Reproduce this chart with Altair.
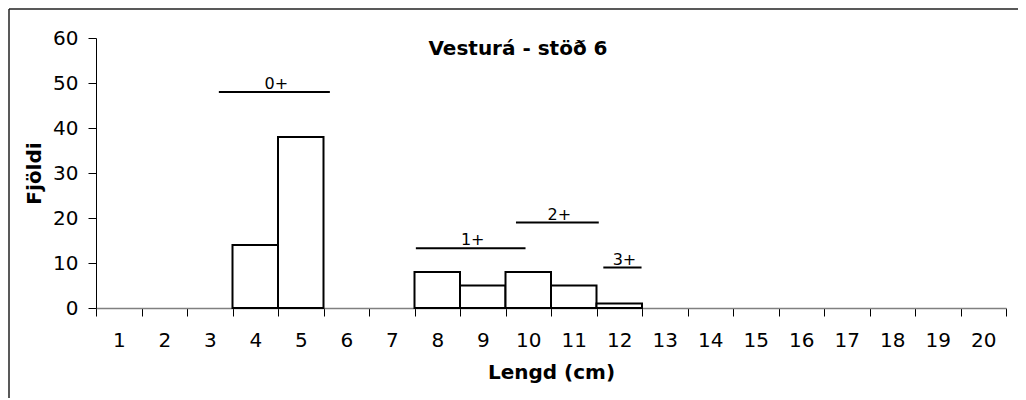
import altair as alt
import pandas as pd

# ---- data ----
lengths = list(range(1, 21))
counts = [0, 0, 0, 14, 38, 0, 0, 8, 5, 8, 5, 1, 0, 0, 0, 0, 0, 0, 0, 0]

age_groups = ["0+", "1+", "2+", "3+"]
age_start = [3.2, 7.53, 9.73, 11.65]
age_end = [5.64, 9.94, 11.55, 12.49]
age_level = [48, 13.3, 19, 9]

y_ticks = [0, 10, 20, 30, 40, 50, 60]
title_text = "Vesturá - stöð 6"
x_title = "Lengd (cm)"
y_title = "Fjöldi"

FONT = "DejaVu Sans"

bars_df = pd.DataFrame({"length": lengths, "count": counts})
ages_df = pd.DataFrame({"group": age_groups, "start": age_start, "end": age_end, "level": age_level})

# tick values: band boundaries (ticks) and centers (labels)
x_values = sorted([l - 0.5 for l in lengths] + [lengths[-1] + 0.5] + lengths)

xscale = alt.Scale(domain=[lengths[0] - 0.5, lengths[-1] + 0.5], nice=False, zero=False)
yscale = alt.Scale(domain=[y_ticks[0], y_ticks[-1]], nice=False)

xaxis = alt.Axis(
    values=x_values,
    labelExpr="datum.value % 1 === 0 ? '' + datum.value : ''",
    tickOpacity={"condition": {"test": "datum.value % 1 === 0", "value": 0}, "value": 1},
    tickSize=8, tickColor="black", domainColor="#808080", domainWidth=1.5,
    labelFontSize=20, labelFont=FONT, labelColor="black", labelPadding=14,
    labelOverlap=False, labelFlush=False,
    title=x_title, titleFontSize=20, titleFont=FONT, titleFontWeight="bold",
    titleColor="black", titlePadding=12, grid=False,
)
yaxis = alt.Axis(
    values=y_ticks, tickSize=8, tickColor="black", domainColor="black",
    labelFontSize=20, labelFont=FONT, labelColor="black", labelPadding=10,
    title=y_title, titleFontSize=20, titleFont=FONT, titleFontWeight="bold",
    titleColor="black", titlePadding=8, grid=False,
)

bars = (
    alt.Chart(bars_df)
    .transform_filter("datum.count > 0")
    .transform_calculate(x0="datum.length - 0.5", x1="datum.length + 0.5")
    .mark_rect(fill="white", stroke="black", strokeWidth=2)
    .encode(
        x=alt.X("x0:Q", scale=xscale, axis=xaxis),
        x2="x1:Q",
        y=alt.Y("count:Q", scale=yscale, axis=yaxis),
        y2=alt.datum(0),
    )
)

age_lines = (
    alt.Chart(ages_df)
    .mark_rule(color="black", strokeWidth=2)
    .encode(
        x=alt.X("start:Q", scale=xscale, axis=xaxis),
        x2="end:Q",
        y=alt.Y("level:Q", scale=yscale, axis=yaxis),
    )
)

age_text = (
    alt.Chart(ages_df)
    .transform_calculate(mid="(datum.start + datum.end) / 2")
    .mark_text(font=FONT, fontSize=16, color="black", baseline="alphabetic", dy=-3, dx=2)
    .encode(
        x=alt.X("mid:Q", scale=xscale, axis=xaxis),
        y=alt.Y("level:Q", scale=yscale, axis=yaxis),
        text="group:N",
    )
)

title_df = pd.DataFrame({"t": [title_text]})
title = (
    alt.Chart(title_df)
    .mark_text(font=FONT, fontSize=20, fontWeight="bold", color="black",
               align="center", baseline="alphabetic")
    .encode(x=alt.value(422), y=alt.value(17), text="t:N")
)

frame_df = pd.DataFrame({"a": [0]})
frame_top = alt.Chart(frame_df).mark_rule(color="#222", strokeWidth=1.5).encode(
    x=alt.value(-87), x2=alt.value(925), y=alt.value(-29)
)
frame_left = alt.Chart(frame_df).mark_rule(color="#222", strokeWidth=1.5).encode(
    x=alt.value(-87), y=alt.value(-29), y2=alt.value(365)
)

chart = (
    alt.layer(bars, age_lines, age_text, title, frame_top, frame_left)
    .properties(
        width=910, height=270,
        padding={"left": 88, "top": 30, "right": 12, "bottom": 90},
        autosize=alt.AutoSizeParams(type="none"),
        background="white",
    )
    .configure_view(stroke=None)
)

chart.save("out.html", embed_options={"renderer": "svg", "actions": False})
